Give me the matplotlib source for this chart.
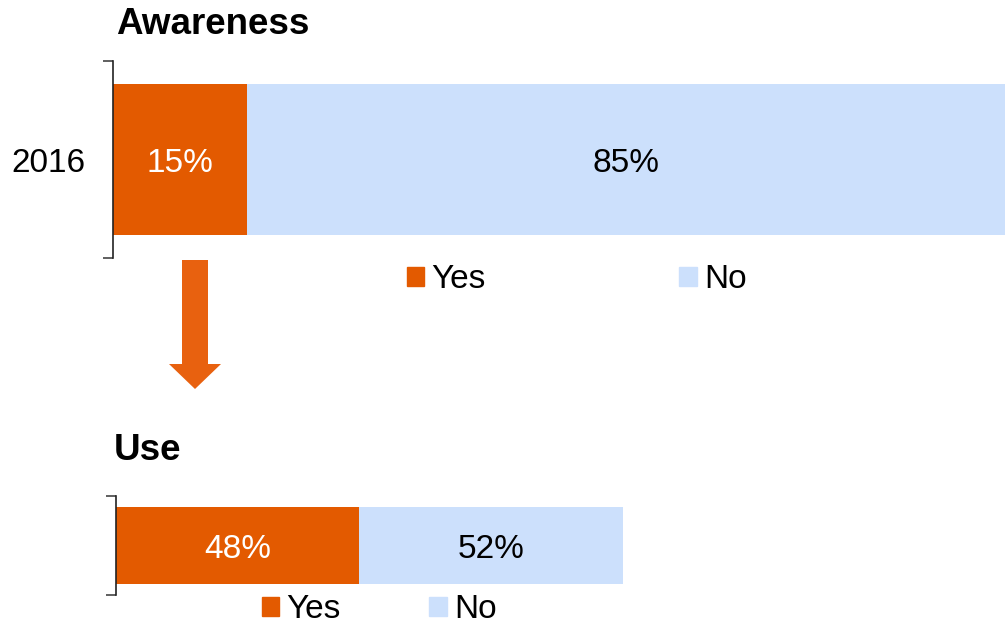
import matplotlib
matplotlib.use("Agg")
import matplotlib.pyplot as plt
from matplotlib.patches import Patch, FancyArrow

plt.rcParams['font.family'] = ['Liberation Sans', 'DejaVu Sans']

# survey shares, percent
categories = ["Yes", "No"]
awareness_year = "2016"
awareness = [15, 85]
use = [48, 52]

ORANGE = "#E35A00"
LIGHT_BLUE = "#CCE0FC"
ARROW = "#E8610F"
FS = 24

W, H = 1005, 627
fig = plt.figure(figsize=(W / 100, H / 100), dpi=100)


def stacked_row(rect, values, bar_h, label=None):
    ax = fig.add_axes(rect)
    left = 0
    colors = [ORANGE, LIGHT_BLUE]
    txt = ["white", "black"]
    for v, c, tc in zip(values, colors, txt):
        bars = ax.barh([0], [v], left=left, height=bar_h, color=c, linewidth=0)
        for t in ax.bar_label(bars, labels=[f"{v}%"], label_type="center",
                              color=tc, fontsize=FS):
            t.set_verticalalignment("center_baseline")
        left += v
    ax.set_xlim(0, sum(values))
    ax.set_ylim(-0.5, 0.5)
    for s in ("top", "right", "bottom"):
        ax.spines[s].set_visible(False)
    ax.spines["left"].set_linewidth(1.2)
    ax.spines["left"].set_color("#222222")
    ax.set_xticks([])
    ax.set_yticks([-0.5, 0.5], minor=True)
    ax.tick_params(axis="y", which="minor", length=7, width=1.2,
                   color="#444444")
    if label:
        ax.set_yticks([0], [label])
        ax.tick_params(axis="y", which="major", length=0, pad=20,
                       labelsize=FS)
    else:
        ax.set_yticks([])
    return ax


# Awareness block
ax1 = stacked_row([113 / W, (H - 258) / H, 892 / W, 197 / H],
                  awareness, 151 / 197, awareness_year)
# Use block
ax2 = stacked_row([116 / W, (H - 595) / H, 507 / W, 99 / H],
                  use, 77 / 99)

handles = [Patch(color=ORANGE, label=categories[0]),
           Patch(color=LIGHT_BLUE, label=categories[1])]
leg_kw = dict(frameon=False, ncol=2, fontsize=FS, handlelength=0.52,
              handleheight=0.52, handletextpad=0.22, borderpad=0,
              borderaxespad=0)
fig.legend(handles=handles, loc="center left",
           bbox_to_anchor=(407 / W, 1 - 280 / H), columnspacing=5.8, **leg_kw)
fig.legend(handles=handles, loc="center left",
           bbox_to_anchor=(262 / W, 1 - 610 / H), columnspacing=2.65, **leg_kw)

fig.text(116 / W, 1 - 24 / H, "Awareness", fontsize=26.5, fontweight="bold",
         va="center", ha="left")
fig.text(114 / W, 1 - 450 / H, "Use", fontsize=26.5, fontweight="bold",
         va="center", ha="left")

# down arrow between the blocks
fig.patches.append(FancyArrow(1.95, 3.67, 0, -1.29, width=0.26,
                              head_width=0.52, head_length=0.25,
                              length_includes_head=True, color=ARROW,
                              linewidth=0, transform=fig.dpi_scale_trans,
                              figure=fig))

fig.savefig("out.png", dpi=100)
